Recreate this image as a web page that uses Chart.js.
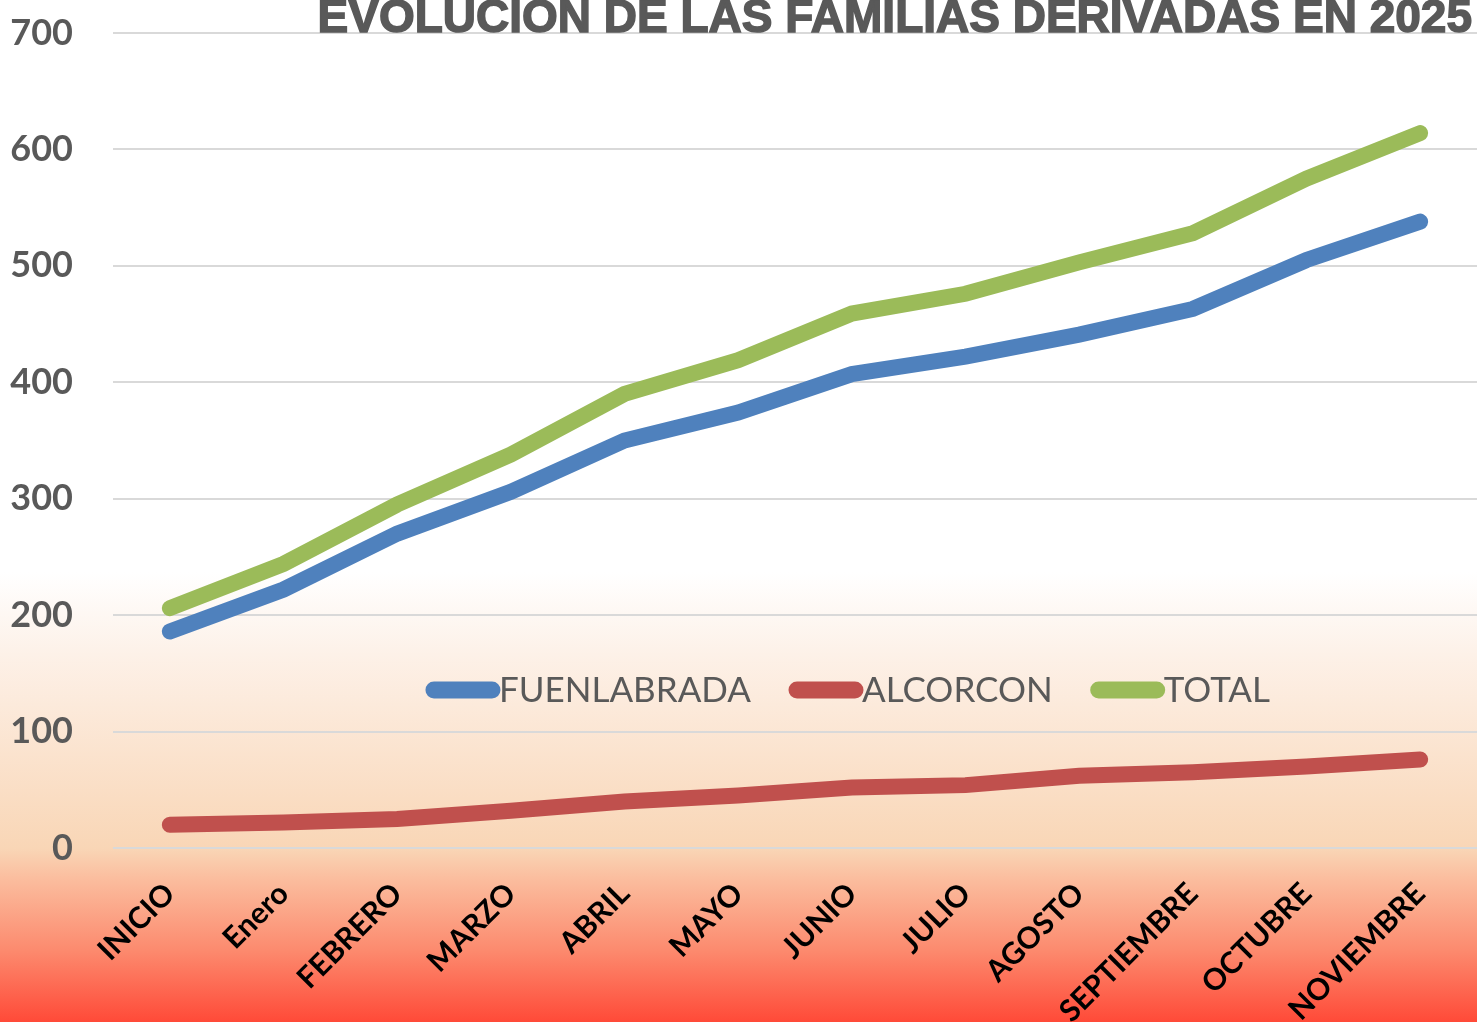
<!DOCTYPE html>
<html>
<head>
<meta charset="utf-8">
<script src="https://cdn.jsdelivr.net/npm/chart.js@4.4.1/dist/chart.umd.min.js"></script>
<style>
  html, body { margin: 0; padding: 0; background: #fff; }
  #wrap { width: 1477px; height: 1022px; }
</style>
</head>
<body>
<div id="wrap"><canvas id="chart" width="1477" height="1022"></canvas></div>
<script>
const months = ['INICIO', 'Enero', 'FEBRERO', 'MARZO', 'ABRIL', 'MAYO', 'JUNIO', 'JULIO', 'AGOSTO', 'SEPTIEMBRE', 'OCTUBRE', 'NOVIEMBRE'];
const fuenlabrada = [186, 222, 270, 306, 350, 374, 407, 422, 441, 463, 505, 538];
const alcorcon = [20, 22, 25, 32, 40, 45, 52, 54, 62, 65, 70, 76];
const total = [206, 244, 295, 338, 390, 419, 459, 476, 503, 528, 575, 614];
const yTicks = [0, 100, 200, 300, 400, 500, 600, 700];

const chartTitle = 'EVOLUCIÓN DE LAS FAMILIAS DERIVADAS EN 2025';

// gradient background behind the whole chart
const bgPlugin = {
    id: 'bg',
    beforeDraw(chart) {
        const ctx = chart.ctx;
        const h = chart.height;
        const g = ctx.createLinearGradient(0, 0, 0, h);
        g.addColorStop(0, '#ffffff');
        g.addColorStop(0.56, '#ffffff');
        g.addColorStop(0.64, '#fdf1e8');
        g.addColorStop(0.83, '#f9d6b6');
        g.addColorStop(0.86, '#fbbd9e');
        g.addColorStop(0.93, '#fc8a6e');
        g.addColorStop(1, '#ff4a38');
        ctx.save();
        ctx.fillStyle = g;
        ctx.fillRect(0, 0, chart.width, h);
        ctx.restore();
    }
};

const titlePlugin = {
    id: 'bigTitle',
    afterDraw(chart) {
        const ctx = chart.ctx;
        ctx.save();
        ctx.font = 'bold 46px "Liberation Sans", Arial, sans-serif';
        ctx.fillStyle = '#595959';
        ctx.strokeStyle = '#595959';
        ctx.lineWidth = 1.5;
        ctx.textAlign = 'right';
        ctx.textBaseline = 'alphabetic';
        ctx.fillText(chartTitle, 1472, 32);
        ctx.strokeText(chartTitle, 1472, 32);
        ctx.restore();
    }
};

// legend drawn inside the plot, line sample followed directly by the label
const legendPlugin = {
    id: 'innerLegend',
    afterDraw(chart) {
        const ctx = chart.ctx;
        const sets = chart.data.datasets;
        const lineW = 66, gap = 38, cy = 690;
        ctx.save();
        ctx.font = '35px Lato, sans-serif';
        const widths = sets.map(d => lineW + 7 + ctx.measureText(d.label).width);
        const full = widths.reduce((a, b) => a + b, 0) + gap * (sets.length - 1);
        let x = 848 - full / 2;
        sets.forEach((d, i) => {
            ctx.strokeStyle = d.borderColor;
            ctx.lineWidth = 17;
            ctx.lineCap = 'round';
            ctx.beginPath();
            ctx.moveTo(x + 8, cy);
            ctx.lineTo(x + lineW, cy);
            ctx.stroke();
            ctx.fillStyle = '#595959';
            ctx.textAlign = 'left';
            ctx.textBaseline = 'middle';
            ctx.fillText(d.label, x + lineW + 7, cy + 1);
            x += widths[i] + gap;
        });
        ctx.restore();
    }
};

const lineStyle = {
    borderWidth: 16,
    pointRadius: 0,
    pointHoverRadius: 0,
    tension: 0,
    borderCapStyle: 'round',
    borderJoinStyle: 'miter',
    fill: false
};

new Chart(document.getElementById('chart').getContext('2d'), {
    type: 'line',
    data: {
        labels: months,
        datasets: [
            { label: 'FUENLABRADA', data: fuenlabrada, borderColor: '#4f81bd', backgroundColor: '#4f81bd', ...lineStyle },
            { label: 'ALCORCON', data: alcorcon, borderColor: '#c0504d', backgroundColor: '#c0504d', ...lineStyle },
            { label: 'TOTAL', data: total, borderColor: '#9bbb59', backgroundColor: '#9bbb59', ...lineStyle }
        ]
    },
    options: {
        responsive: false,
        animation: false,
        devicePixelRatio: 1,
        layout: { padding: { top: 33, left: 0, right: 0, bottom: 0 } },
        plugins: {
            legend: { display: false },
            title: { display: false },
            tooltip: { enabled: false }
        },
        scales: {
            x: {
                offset: true,
                grid: { display: false, drawTicks: false },
                border: { display: false },
                afterFit(scale) {
                    scale.height = 174;
                    scale.paddingLeft = 0;
                    scale.paddingRight = 0;
                },
                ticks: {
                    autoSkip: false,
                    minRotation: 45,
                    maxRotation: 45,
                    padding: 28,
                    color: '#000000',
                    font: { family: 'Lato, sans-serif', size: 30, weight: 'bold' }
                }
            },
            y: {
                min: 0,
                max: 700,
                afterFit(scale) {
                    scale.width = 113;
                    scale.paddingTop = 0;
                    scale.paddingBottom = 0;
                },
                afterBuildTicks(scale) { scale.ticks = yTicks.map(v => ({ value: v })); },
                grid: { color: '#d9d9d9', lineWidth: 2, drawTicks: false },
                border: { display: false },
                ticks: {
                    padding: 40,
                    color: '#595959',
                    font: { family: 'Lato, sans-serif', size: 36, weight: 'bold' }
                }
            }
        }
    },
    plugins: [bgPlugin, titlePlugin, legendPlugin]
});
</script>
</body>
</html>
